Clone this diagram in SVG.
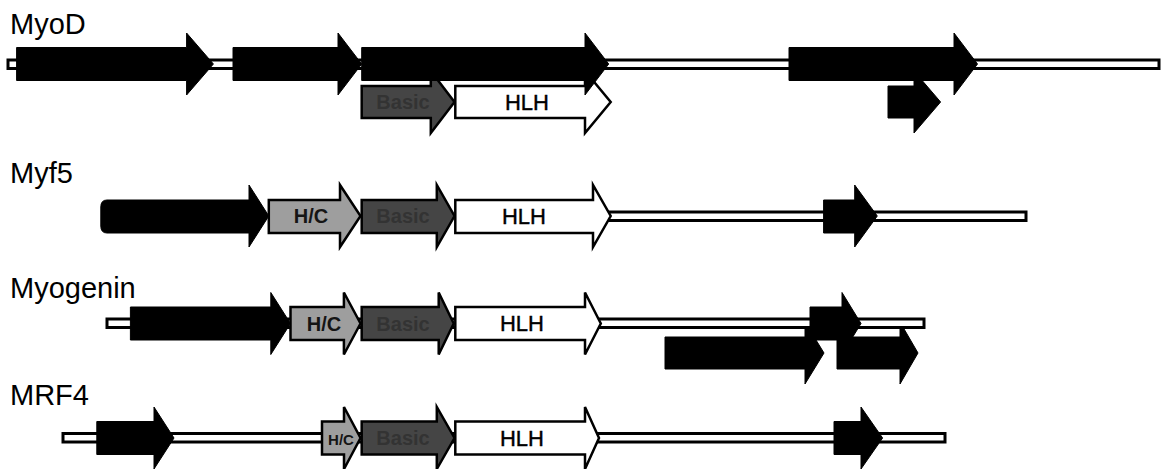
<svg xmlns="http://www.w3.org/2000/svg" width="1161" height="469" viewBox="0 0 1161 469">
<style>
.lbl{font-family:"Liberation Sans",Arial,sans-serif;font-size:29px;fill:#000}
.rod{fill:#fff;stroke:#000;stroke-width:3}
.ex{fill:#000;stroke:#000;stroke-width:1}
.hc{fill:#9e9e9e;stroke:#000;stroke-width:2.5}
.bs{fill:#454545;stroke:#000;stroke-width:2.5}
.hlh{fill:#fff;stroke:#000;stroke-width:2.5}
.t{font-family:"Liberation Sans",Arial,sans-serif;text-anchor:middle;fill:#000}
.th{font-size:22px;stroke:#000;stroke-width:0.4}
.tc{font-size:20px;font-weight:bold;fill:#151515}
.tb{font-size:20px;font-weight:bold;fill:#333}
</style>
<rect width="1161" height="469" fill="#fff"/>
<g id="labels">
<text class="lbl" x="10" y="34">MyoD</text>
<text class="lbl" x="10" y="183">Myf5</text>
<text class="lbl" x="10" y="298">Myogenin</text>
<text class="lbl" x="10" y="405">MRF4</text>
</g>
<g id="connectors">
<rect class="rod" x="8" y="60" width="1151" height="8.5"/>
<rect class="rod" x="600" y="212" width="426" height="8.5"/>
<g id="myog-lower">
<path class="ex" d="M665,337 H805 V322 L824,353 L805,384 V369 H665Z"/>
<path class="ex" d="M837,337 H900 V322 L918,353 L900,384 V369 H837Z"/>
</g>
<rect class="rod" x="107" y="319" width="817" height="8.5"/>
<rect class="rod" x="63" y="433.5" width="882" height="8.5"/>
</g>
<g id="MyoD">
<path class="bs" d="M361.7,86 H430.8 V71 L454.5,102 L430.8,133 V118 H361.7Z"/>
<text class="t tb" x="403" y="109">Basic</text>
<path class="hlh" d="M455.3,86 H585 V71 L610.7,102 L585,133 V118 H455.3Z"/>
<text class="t th" x="527" y="110">HLH</text>
<path class="ex" d="M888,86 H914 V71 L940.6,102 L914,133 V118 H888Z"/>
<path class="ex" d="M16.6,47.5 H186.6 V33 L213.4,64 L186.6,95 V80.5 H16.6Z"/>
<path class="ex" d="M233,47.5 H338 V33 L361.7,64 L338,95 V80.5 H233Z"/>
<path class="ex" d="M361.7,47.5 H585 V33 L608.7,64 L585,95 V80.5 H361.7Z"/>
<path class="ex" d="M789,47.5 H954 V33 L977.5,64 L954,95 V80.5 H789Z"/>
</g>
<g id="Myf5">
<path class="ex" d="M107,200 H249 V185 L268.8,216 L249,247 V233 H107 Q100.8,233 100.8,226 V207 Q100.8,200 107,200Z"/>
<path class="hc" d="M268.8,200 H340 V185 L360.5,216 L340,247 V233 H268.8Z"/>
<text class="t tc" x="311" y="223">H/C</text>
<path class="bs" d="M361.7,200 H436.8 V185 L454.5,216 L436.8,247 V233 H361.7Z"/>
<text class="t tb" x="403" y="223">Basic</text>
<path class="hlh" d="M455.3,200 H593 V185 L610.7,216 L593,247 V233 H455.3Z"/>
<text class="t th" x="524" y="224">HLH</text>
<path class="ex" d="M823.6,200 H854.7 V185 L877.3,216 L854.7,247 V233 H823.6Z"/>
</g>
<g id="Myogenin">
<path class="ex" d="M130.4,307 H270.8 V292.5 L290.5,323.5 L270.8,354.5 V340 H130.4Z"/>
<path class="hc" d="M290.5,307 H343.9 V292.5 L360.5,323.5 L343.9,354.5 V340 H290.5Z"/>
<text class="t tc" x="324" y="331">H/C</text>
<path class="bs" d="M361.7,307 H438.7 V292.5 L453.7,323.5 L438.7,354.5 V340 H361.7Z"/>
<text class="t tb" x="403" y="331">Basic</text>
<path class="hlh" d="M455.3,307 H585 V292.5 L600.8,323.5 L585,354.5 V340 H455.3Z"/>
<text class="t th" x="522" y="331">HLH</text>
<path class="ex" d="M810,307 H842 V292.5 L861,323.5 L842,354.5 V340 H810Z"/>
</g>
<g id="MRF4">
<path class="ex" d="M96.8,421.5 H154 V407 L174,438 L154,469 V454.5 H96.8Z"/>
<path class="hc" d="M322,421.5 H344 V407 L360.5,438 L344,469 V454.5 H322Z"/>
<text class="t tc" x="341" y="445" style="font-size:15px">H/C</text>
<path class="bs" d="M361.7,421.5 H436.8 V407 L454.5,438 L436.8,469 V454.5 H361.7Z"/>
<text class="t tb" x="403" y="445">Basic</text>
<path class="hlh" d="M455.3,421.5 H585 V407 L599,438 L585,469 V454.5 H455.3Z"/>
<text class="t th" x="522" y="446">HLH</text>
<path class="ex" d="M834,421.5 H861 V407 L882.6,438 L861,469 V454.5 H834Z"/>
</g>
</svg>
